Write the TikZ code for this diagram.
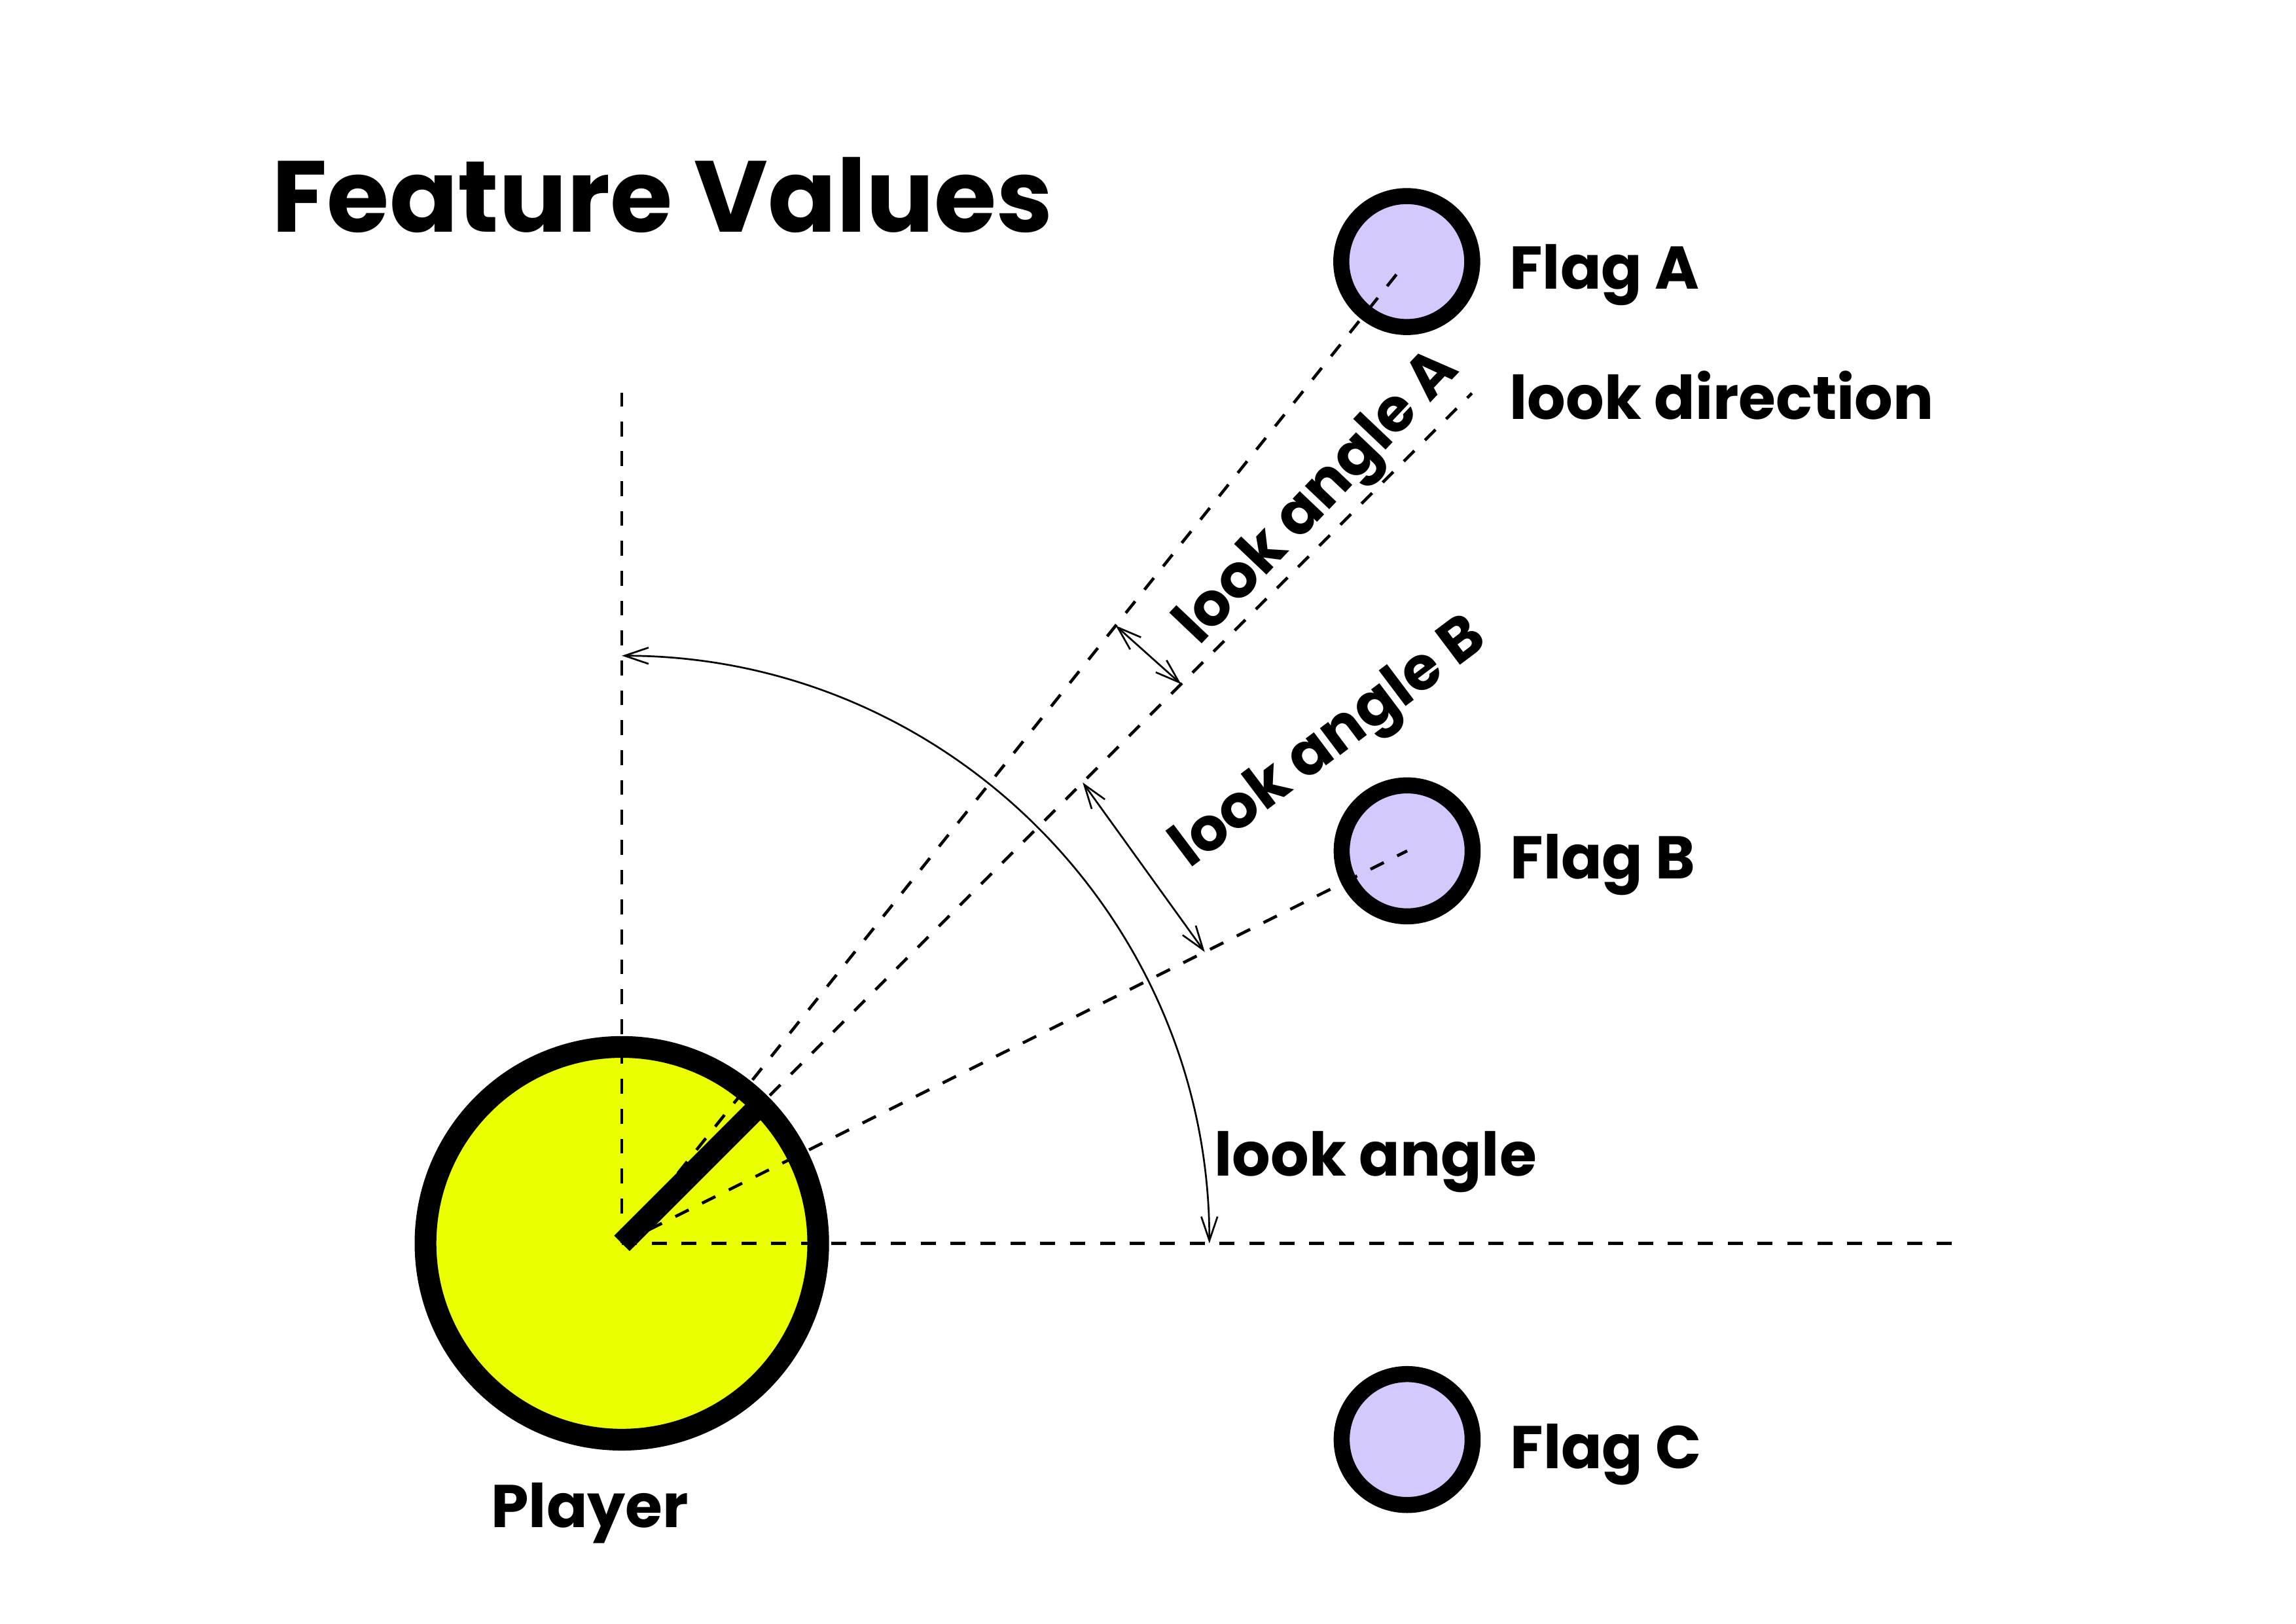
\documentclass[tikz,border=0pt]{standalone}
\usepackage{fontspec}
\setmainfont{Poppins}
\usetikzlibrary{arrows.meta}

\definecolor{playeryellow}{RGB}{234,255,0}
\definecolor{flaglilac}{RGB}{212,200,252}

\tikzset{
  player/.style={circle, draw=black, fill=playeryellow, line width=8pt, minimum size=5.08cm, inner sep=0pt},
  flag/.style={circle, draw=black, fill=flaglilac, line width=5.9pt, minimum size=1.694cm, inner sep=0pt},
  guide/.style={black, line width=1.1pt, dash pattern=on 5.5pt off 5.5pt},
  measure/.style={black, line width=0.65pt, {Straight Barb[length=3.1mm,width=2.1mm]}-{Straight Barb[length=3.1mm,width=2.1mm]}},
  stick/.style={black, line width=8pt},
  tag/.style={inner sep=0pt, font=\bfseries\fontsize{22.2}{22.2}\selectfont},
}

\begin{document}
\begin{tikzpicture}
\useasboundingbox (0,0) rectangle (29.7,-21);
% player and flags
\node[player] (pl) at (8.044,-16.081) {};
\node[flag] (fa) at (18.197,-3.383) {};
\node[flag] (fb) at (18.202,-11.005) {};
\node[flag] (fc) at (18.202,-18.619) {};
% helper points
\coordinate (up) at (8.044,-5.076);
\coordinate (rt) at (25.381,-16.081);
\path (pl.center) ++(45:15.55) coordinate (ld);
\path (pl.center) ++(51.36:10.23) coordinate (ma1);
\path (pl.center) ++(45:10.23) coordinate (ma2);
\path (pl.center) ++(45:8.43) coordinate (mb1);
\path (pl.center) ++(26.55:8.43) coordinate (mb2);
% guide lines
\draw[guide] (pl.center) -- (up);
\draw[guide] (pl.center) -- (rt);
\draw[guide] (pl.center) -- (ld);
\draw[guide, shorten >=0.13cm] (pl.center) -- (fa.center);
\draw[guide] (pl.center) -- (fb.center);
% look direction stick
\draw[stick] (pl.center) -- ++(45:2.40);
% angle arrows
\draw[measure] ([shift={(pl.center)}]0:7.6) arc (0:90:7.6);
\draw[measure] (ma1) -- (ma2);
\draw[measure] (mb1) -- (mb2);
% texts
\node[anchor=base west, inner sep=0pt, font=\bfseries\fontsize{37.2}{37.2}\selectfont] (title) at (3.51,-3.00) {Feature Values};
\node[tag, anchor=base west] (ta) at (19.52,-3.74) {Flag A};
\node[tag, anchor=base west] (tb) at (19.53,-11.37) {Flag B};
\node[tag, anchor=base west] (tc) at (19.53,-18.99) {Flag C};
\node[tag, anchor=base west] (tld) at (19.52,-5.425) {look direction};
\node[tag, anchor=base west] (tla) at (15.702,-15.213) {look angle};
\node[tag, anchor=base west, rotate=46.5] (tlaa) at (15.507,-8.368) {look angle A};
\node[tag, anchor=base west, rotate=37] (tlab) at (15.381,-11.246) {look angle B};
\node[tag, anchor=base] (tpl) at (7.63,-19.76) {Player};
\end{tikzpicture}
\end{document}
